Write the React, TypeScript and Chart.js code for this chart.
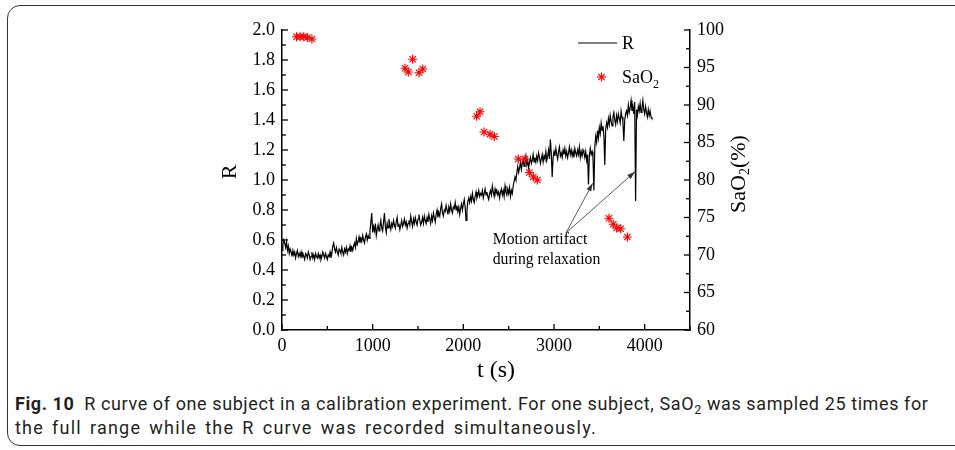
import React, { useEffect, useRef } from "react";
import { Chart, registerables } from "chart.js";

Chart.register(...registerables);

// ---------------- data ----------------
// R curve, one sample every R_SAMPLE_PERIOD_S seconds starting at t = 0 s
const R_SAMPLE_PERIOD_S = 10;
const R_VALUES = [
  0.53, 0.57, 0.60, 0.58, 0.55, 0.59, 0.53, 0.56, 0.51, 0.54, 0.52, 0.49, 0.53, 0.50, 0.52, 0.48, 0.51, 0.53, 0.49, 0.51,
  0.49, 0.52, 0.48, 0.51, 0.49, 0.47, 0.51, 0.50, 0.48, 0.52, 0.50, 0.47, 0.49, 0.52, 0.48, 0.50, 0.47, 0.51, 0.49, 0.48,
  0.51, 0.48, 0.50, 0.47, 0.49, 0.52, 0.50, 0.48, 0.51, 0.49, 0.47, 0.50, 0.49, 0.52, 0.48, 0.51, 0.56, 0.58, 0.54, 0.52,
  0.55, 0.52, 0.50, 0.54, 0.53, 0.51, 0.55, 0.52, 0.50, 0.54, 0.52, 0.55, 0.51, 0.54, 0.53, 0.56, 0.52, 0.55, 0.53, 0.56,
  0.58, 0.55, 0.61, 0.57, 0.59, 0.62, 0.58, 0.61, 0.59, 0.63, 0.60, 0.58, 0.62, 0.64, 0.60, 0.63, 0.61, 0.66, 0.72, 0.78,
  0.65, 0.69, 0.66, 0.71, 0.63, 0.67, 0.70, 0.66, 0.69, 0.73, 0.68, 0.66, 0.72, 0.78, 0.69, 0.65, 0.71, 0.68, 0.74, 0.70,
  0.67, 0.71, 0.69, 0.73, 0.70, 0.68, 0.72, 0.75, 0.69, 0.71, 0.67, 0.70, 0.73, 0.69, 0.71, 0.74, 0.70, 0.72, 0.68, 0.71,
  0.73, 0.70, 0.76, 0.72, 0.69, 0.74, 0.71, 0.75, 0.72, 0.70, 0.74, 0.77, 0.73, 0.70, 0.72, 0.75, 0.71, 0.76, 0.73, 0.71,
  0.75, 0.72, 0.77, 0.74, 0.71, 0.76, 0.73, 0.78, 0.75, 0.72, 0.77, 0.80, 0.75, 0.78, 0.76, 0.81, 0.84, 0.78, 0.76, 0.80,
  0.79, 0.83, 0.80, 0.77, 0.82, 0.79, 0.84, 0.80, 0.78, 0.82, 0.81, 0.85, 0.80, 0.83, 0.79, 0.82, 0.77, 0.81, 0.84, 0.80,
  0.84, 0.87, 0.82, 0.73, 0.80, 0.86, 0.88, 0.85, 0.89, 0.86, 0.91, 0.87, 0.85, 0.89, 0.92, 0.88, 0.90, 0.93, 0.89, 0.91,
  0.90, 0.93, 0.88, 0.91, 0.94, 0.90, 0.92, 0.89, 0.87, 0.91, 0.93, 0.90, 0.96, 0.92, 0.89, 0.94, 0.91, 0.93, 0.90, 0.92,
  0.88, 0.92, 0.94, 0.90, 0.93, 0.89, 0.96, 0.92, 0.90, 0.94, 0.91, 0.95, 0.89, 0.93, 0.91, 0.96, 0.99, 1.02, 1.00, 1.05,
  1.09, 1.05, 1.08, 1.12, 1.07, 1.11, 1.14, 1.09, 1.12, 1.16, 1.10, 1.13, 1.08, 1.12, 1.15, 1.11, 1.13, 1.17, 1.12, 1.15,
  1.12, 1.16, 1.13, 1.18, 1.15, 1.11, 1.14, 1.17, 1.12, 1.16, 1.14, 1.19, 1.13, 1.16, 1.20, 1.14, 1.27, 1.18, 1.02, 1.15,
  1.19, 1.16, 1.21, 1.17, 1.14, 1.19, 1.22, 1.16, 1.18, 1.15, 1.20, 1.17, 1.21, 1.16, 1.19, 1.15, 1.18, 1.22, 1.17, 1.20,
  1.16, 1.19, 1.15, 1.21, 1.18, 1.16, 1.20, 1.17, 1.22, 1.15, 1.19, 1.16, 1.20, 1.18, 1.15, 1.19, 1.13, 1.17, 0.97, 1.16,
  1.21, 1.17, 1.19, 1.15, 0.93, 1.22, 1.29, 1.25, 1.33, 1.28, 1.35, 1.31, 1.38, 1.33, 1.36, 1.30, 1.10, 1.34, 1.38, 1.35,
  1.41, 1.37, 1.43, 1.39, 1.36, 1.42, 1.45, 1.40, 1.37, 1.43, 1.39, 1.44, 1.41, 1.38, 1.46, 1.42, 1.39, 1.26, 1.40, 1.44,
  1.46, 1.43, 1.50, 1.45, 1.48, 1.53, 1.46, 1.49, 1.44, 1.52, 0.86, 1.47, 1.43, 1.49, 1.46, 1.51, 1.45, 1.48, 1.53, 1.47,
  1.44, 1.49, 1.45, 1.42, 1.47, 1.43, 1.46, 1.42, 1.41,
];

// SaO2 samples (25)
const SAO2_TIMES = [
  160, 200, 240, 280, 330,
  1357, 1393, 1441, 1511, 1552,
  2147, 2184, 2228, 2294, 2342, 2606, 2680, 2728, 2772, 2816,
  3606, 3654, 3691, 3735, 3809,
];
const SAO2_VALUES = [
  99.1, 99.1, 99.1, 99.0, 98.8,
  94.9, 94.4, 96.1, 94.3, 94.8,
  88.5, 89.1, 86.4, 86.1, 85.8, 82.8, 82.8, 81.0, 80.4, 80.0,
  74.9, 74.1, 73.6, 73.5, 72.4,
];

// tick values
const X_TICKS = [0, 1000, 2000, 3000, 4000];
const X_MINOR_TICKS = [500, 1500, 2500, 3500, 4500];
const Y_TICKS = [0, 0.2, 0.4, 0.6, 0.8, 1.0, 1.2, 1.4, 1.6, 1.8, 2.0];
const Y_MINOR_TICKS = [0.1, 0.3, 0.5, 0.7, 0.9, 1.1, 1.3, 1.5, 1.7, 1.9];
const Y2_TICKS = [60, 65, 70, 75, 80, 85, 90, 95, 100];
const Y2_MINOR_TICKS = [62.5, 67.5, 72.5, 77.5, 82.5, 87.5, 92.5, 97.5];

// annotation (data coordinates)
const ANNOTATION_LINES = ["Motion artifact", "during relaxation"];
const ANNOTATION_TEXT_AT = { x: 2324, y: 0.6 };
const ARROW_FROM = { x: 3132, y: 0.647 };
const ARROW_TIPS = [
  { x: 3427, y: 0.978 },
  { x: 3893, y: 1.055 },
];

// ---------------- styling ----------------
const SERIF = '"Liberation Serif", "Times New Roman", serif';
const TICK_FONT = { family: SERIF, size: 18 };

const decorPlugin = {
  id: "decor",
  afterDraw(chart: any) {
    const { ctx, chartArea: a } = chart;
    const sx = chart.scales.x;
    const sy = chart.scales.y;
    const sy2 = chart.scales.y2;
    ctx.save();
    ctx.strokeStyle = "#000";
    ctx.lineWidth = 1.3;
    const seg = (x1: number, y1: number, x2: number, y2: number) => {
      ctx.beginPath();
      ctx.moveTo(x1, y1);
      ctx.lineTo(x2, y2);
      ctx.stroke();
    };
    // inward ticks
    X_TICKS.forEach((v) => {
      const p = sx.getPixelForValue(v);
      seg(p, a.bottom, p, a.bottom - 6);
    });
    X_MINOR_TICKS.forEach((v) => {
      const p = sx.getPixelForValue(v);
      seg(p, a.bottom, p, a.bottom - 4);
    });
    Y_TICKS.forEach((v) => {
      const p = sy.getPixelForValue(v);
      seg(a.left, p, a.left + 6, p);
    });
    Y_MINOR_TICKS.forEach((v) => {
      const p = sy.getPixelForValue(v);
      seg(a.left, p, a.left + 4, p);
    });
    Y2_TICKS.forEach((v) => {
      const p = sy2.getPixelForValue(v);
      seg(a.right, p, a.right - 6, p);
    });
    Y2_MINOR_TICKS.forEach((v) => {
      const p = sy2.getPixelForValue(v);
      seg(a.right, p, a.right - 4, p);
    });

    ctx.fillStyle = "#000";
    // axis titles
    ctx.textAlign = "center";
    ctx.textBaseline = "middle";
    ctx.font = `22px ${SERIF}`;
    ctx.save();
    ctx.translate(230, 172);
    ctx.rotate(-Math.PI / 2);
    ctx.fillText("R", 0, 0);
    ctx.restore();

    ctx.font = `24px ${SERIF}`;
    ctx.fillText("t (s)", 496, 371);

    // right title with subscript
    ctx.save();
    ctx.translate(737, 174);
    ctx.rotate(-Math.PI / 2);
    ctx.textAlign = "left";
    ctx.textBaseline = "alphabetic";
    ctx.font = `22px ${SERIF}`;
    const w1 = ctx.measureText("SaO").width;
    const w3 = ctx.measureText("(%)").width;
    ctx.font = `14px ${SERIF}`;
    const w2 = ctx.measureText("2").width;
    const total = w1 + w2 + w3;
    let cx = -total / 2;
    ctx.font = `22px ${SERIF}`;
    ctx.fillText("SaO", cx, 8);
    cx += w1;
    ctx.font = `14px ${SERIF}`;
    ctx.fillText("2", cx, 12);
    cx += w2;
    ctx.font = `22px ${SERIF}`;
    ctx.fillText("(%)", cx, 8);
    ctx.restore();

    // legend
    ctx.lineWidth = 1.2;
    seg(578, 43, 617, 43);
    ctx.textAlign = "left";
    ctx.textBaseline = "middle";
    ctx.font = `18px ${SERIF}`;
    ctx.fillText("R", 622, 44);
    // star marker
    ctx.strokeStyle = "#ff0000";
    ctx.lineWidth = 1.2;
    const r = 4.5;
    for (let k = 0; k < 4; k++) {
      const ang = (k * Math.PI) / 4;
      const dx = Math.cos(ang) * r;
      const dy = Math.sin(ang) * r;
      seg(601.5 - dx, 77 - dy, 601.5 + dx, 77 + dy);
    }
    ctx.fillText("SaO", 622, 78);
    const ws = ctx.measureText("SaO").width;
    ctx.font = `12px ${SERIF}`;
    ctx.fillText("2", 622 + ws, 85);

    // annotation text
    ctx.font = `15.7px ${SERIF}`;
    ctx.fillStyle = "#000";
    const tx = sx.getPixelForValue(ANNOTATION_TEXT_AT.x);
    const ty = sy.getPixelForValue(ANNOTATION_TEXT_AT.y);
    ANNOTATION_LINES.forEach((line, i) => ctx.fillText(line, tx, ty + i * 19.5));

    // arrows
    ctx.strokeStyle = "#333";
    ctx.fillStyle = "#333";
    ctx.lineWidth = 0.8;
    const ox = sx.getPixelForValue(ARROW_FROM.x);
    const oy = sy.getPixelForValue(ARROW_FROM.y);
    ARROW_TIPS.forEach((tip) => {
      const px = sx.getPixelForValue(tip.x);
      const py = sy.getPixelForValue(tip.y);
      seg(ox, oy, px, py);
      const ang = Math.atan2(py - oy, px - ox);
      const L = 8;
      const W = 2.6;
      ctx.beginPath();
      ctx.moveTo(px, py);
      ctx.lineTo(px - L * Math.cos(ang) + W * Math.sin(ang), py - L * Math.sin(ang) - W * Math.cos(ang));
      ctx.lineTo(px - L * Math.cos(ang) - W * Math.sin(ang), py - L * Math.sin(ang) + W * Math.cos(ang));
      ctx.closePath();
      ctx.fill();
    });
    ctx.restore();
  },
};

export default function App() {
  const canvasRef = useRef<HTMLCanvasElement | null>(null);

  useEffect(() => {
    if (!canvasRef.current) return;
    const rData = R_VALUES.map((v, i) => ({ x: i * R_SAMPLE_PERIOD_S, y: v }));
    const sData = SAO2_TIMES.map((t, i) => ({ x: t, y: SAO2_VALUES[i] }));
    const chart = new Chart(canvasRef.current, {
      type: "scatter",
      data: {
        datasets: [
          {
            label: "SaO2",
            data: sData,
            yAxisID: "y2",
            showLine: false,
            pointStyle: "star",
            pointRadius: 4.5,
            pointBorderColor: "#ff0000",
            pointBackgroundColor: "#ff0000",
            pointBorderWidth: 1.2,
            borderColor: "#ff0000",
            backgroundColor: "#ff0000",
          },
          {
            label: "R",
            data: rData,
            yAxisID: "y",
            showLine: true,
            pointRadius: 0,
            borderColor: "#000",
            borderWidth: 1.2,
            tension: 0,
          },
        ],
      },
      options: {
        animation: false,
        responsive: false,
        devicePixelRatio: 1,
        layout: { padding: { top: 30, left: 0, right: 0, bottom: 0 } },
        plugins: { legend: { display: false }, tooltip: { enabled: false } },
        scales: {
          x: {
            type: "linear",
            position: "bottom",
            min: 0,
            max: 4500,
            afterBuildTicks: (s: any) => {
              s.ticks = X_TICKS.map((v) => ({ value: v }));
            },
            afterFit: (s: any) => {
              s.height = 60;
            },
            grid: { display: false, drawTicks: false },
            border: { display: true, color: "#000", width: 1.5 },
            ticks: {
              font: TICK_FONT,
              color: "#000",
              padding: 5,
              maxRotation: 0,
              autoSkip: false,
              callback: (v: any) => String(v),
            },
          },
          y: {
            type: "linear",
            position: "left",
            min: 0,
            max: 2,
            afterBuildTicks: (s: any) => {
              s.ticks = Y_TICKS.map((v) => ({ value: v }));
            },
            afterFit: (s: any) => {
              s.width = 282;
            },
            grid: { display: false, drawTicks: false },
            border: { display: true, color: "#000", width: 1.5 },
            ticks: {
              font: TICK_FONT,
              color: "#000",
              padding: 7,
              autoSkip: false,
              callback: (v: any) => Number(v).toFixed(1),
            },
          },
          y2: {
            type: "linear",
            position: "right",
            min: 60,
            max: 100,
            afterBuildTicks: (s: any) => {
              s.ticks = Y2_TICKS.map((v) => ({ value: v }));
            },
            afterFit: (s: any) => {
              s.width = 265;
            },
            grid: { display: false, drawTicks: false },
            border: { display: true, color: "#000", width: 1.5 },
            ticks: {
              font: TICK_FONT,
              color: "#000",
              padding: 7,
              autoSkip: false,
              callback: (v: any) => String(v),
            },
          },
        },
      },
      plugins: [decorPlugin],
    } as any);
    return () => chart.destroy();
  }, []);

  const captionFont = {
    fontFamily: "Roboto, 'Noto Sans', sans-serif",
    fontSize: 18,
    color: "#231f20",
    whiteSpace: "nowrap" as const,
    position: "absolute" as const,
    left: 15,
  };

  return (
    <div
      style={{
        position: "absolute",
        left: 0,
        top: 0,
        width: 955,
        height: 450,
        overflow: "hidden",
        background: "#fff",
      }}
    >
      <div
        style={{
          position: "absolute",
          left: 7,
          top: 5,
          width: 1000,
          height: 441,
          border: "1px solid #333",
          borderRadius: 13,
          boxSizing: "border-box",
        }}
      />
      <canvas
        ref={canvasRef}
        width={955}
        height={390}
        style={{ position: "absolute", left: 0, top: 0, width: 955, height: 390 }}
      />
      <div style={{ ...captionFont, top: 392, lineHeight: "24px", letterSpacing: "0.6px" }}>
        <span style={{ fontWeight: 700 }}>Fig. 10</span>
        {"\u2002"}R curve of one subject in a calibration experiment. For one subject, SaO
        <span style={{ fontSize: "0.7em", position: "relative", top: 4 }}>2</span> was sampled 25
        times for
      </div>
      <div
        style={{
          ...captionFont,
          top: 416,
          lineHeight: "24px",
          letterSpacing: "1.2px",
          wordSpacing: "2.5px",
        }}
      >
        the full range while the R curve was recorded simultaneously.
      </div>
    </div>
  );
}
